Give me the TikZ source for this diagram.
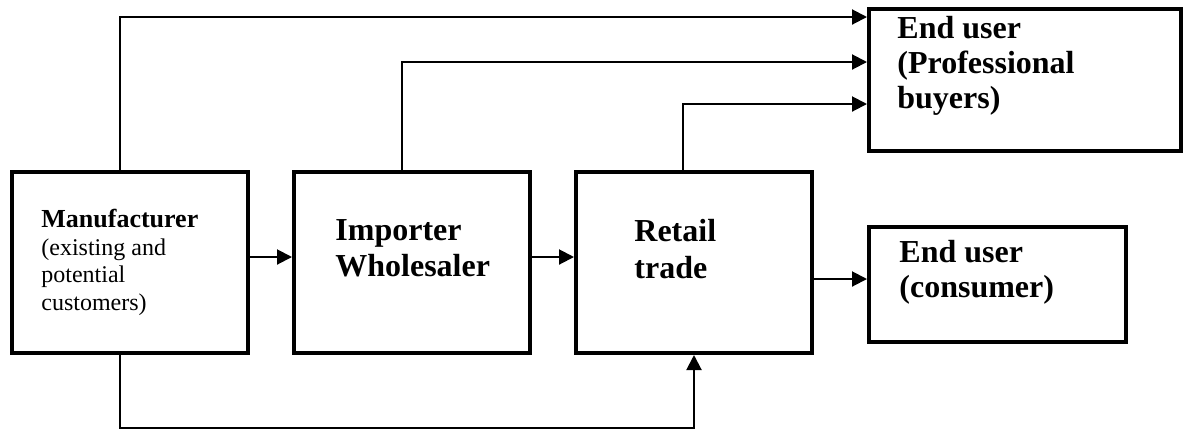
\documentclass[tikz,border=0pt]{standalone}
\usepackage{fontspec}
\setmainfont{Liberation Serif}
\usepackage{tikz}
\usetikzlibrary{positioning,arrows.meta}

\tikzset{
  box/.style={draw, line width=2pt, inner sep=0pt, minimum width=118pt, minimum height=90.5pt},
  boxtext/.style={inner sep=0pt, align=left, anchor=north west},
  arr/.style={line width=1pt, -{Triangle[length=7.5pt,width=7.5pt]}},
}

\begin{document}
\begin{tikzpicture}[x=0.5pt, y=-0.5pt]
  \useasboundingbox (0,0) rectangle (1188,430);

  % boxes
  \node[box] (manu) at (130,262.5) {};
  \node[box] (imp) at (412,262.5) {};
  \node[box] (retail) at (694,262.5) {};
  \node[box, minimum width=156pt, minimum height=71pt] (pro) at (1025,80) {};
  \node[box, minimum width=128.5pt, minimum height=57.5pt] (cons) at (997.5,284.5) {};

  % texts
  \node[boxtext, font=\fontsize{12}{13.75}\selectfont,
        below right=19.5pt and 15.5pt of manu.north west] (manutxt)
    {{\fontsize{13}{13.75}\selectfont\bfseries Manufacturer}\\
     (existing and\\ potential\\ customers)};
  \node[boxtext, font=\fontsize{16}{18}\selectfont\bfseries,
        below right=24.7pt and 21.5pt of imp.north west] (imptxt)
    {Importer\\ Wholesaler};
  \node[boxtext, font=\fontsize{16}{18.5}\selectfont\bfseries,
        below right=24.2pt and 30pt of retail.north west] (retailtxt)
    {Retail\\ trade};
  \node[boxtext, font=\fontsize{16}{17.5}\selectfont\bfseries,
        below right=4.2pt and 15pt of pro.north west] (protxt)
    {End user\\ (Professional\\ buyers)};
  \node[boxtext, font=\fontsize{16}{17.5}\selectfont\bfseries,
        below right=7.2pt and 16pt of cons.north west] (constxt)
    {End user\\ (consumer)};

  % main chain
  \draw[arr] ([yshift=2.75pt]manu.east) -- ([yshift=2.75pt]imp.west);
  \draw[arr] ([yshift=2.75pt]imp.east) -- ([yshift=2.75pt]retail.west);
  \draw[arr] ([yshift=2.75pt]cons.west -| retail.east) -- ([yshift=2.75pt]cons.west);

  % direct lines to professional buyers
  \draw[arr] ([xshift=-5pt]manu.north) |- ([yshift=31.5pt]pro.west);
  \draw[arr] ([xshift=-5pt]imp.north) |- ([yshift=9pt]pro.west);
  \draw[arr] ([xshift=-5.5pt]retail.north) |- ([yshift=-12pt]pro.west);

  % manufacturer to retail trade
  \draw[arr] ([xshift=-5pt]manu.south) -- ++(0,73) -| (retail.south);
\end{tikzpicture}
\end{document}
